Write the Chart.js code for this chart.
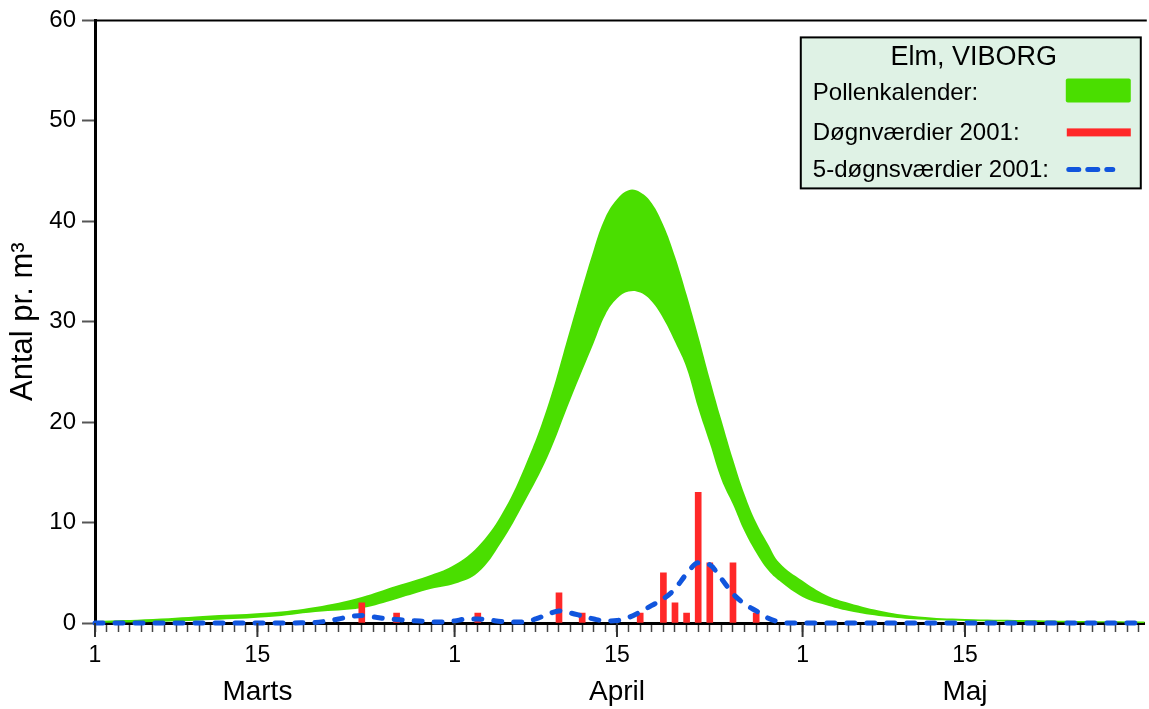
<!DOCTYPE html>
<html>
<head>
<meta charset="utf-8">
<script src="https://cdn.jsdelivr.net/npm/chart.js@4.4.1/dist/chart.umd.min.js"></script>
<style>
  body { margin: 0; background: #fff; }
  #wrap { width: 1149px; height: 709px; }
</style>
</head>
<body>
<div id="wrap"><canvas id="pollenChart" width="1149" height="709"></canvas></div>
<script>
const FONT = "'Liberation Sans', Arial, sans-serif";
const GREEN = '#4ade00';
const RED = '#ff2828';
const BLUE = '#1155dd';

// dage regnet fra 1. marts (= 0)
const bandDays  = [0, 5, 10, 15, 19, 23, 26, 29, 31, 33, 35, 37, 39, 41, 43, 44, 45, 46, 47, 48, 49, 50, 51, 52, 53, 54, 55, 56, 57, 58, 59, 61, 63, 65, 68, 71, 75, 80, 85, 90.5];
const bandUpper = [0.2, 0.4, 0.75, 1.05, 1.6, 2.6, 3.7, 4.8, 5.8, 7.6, 10.7, 15.4, 21.5, 29.4, 37.2, 40.4, 42.2, 43.1, 42.9, 41.8, 39.6, 36.5, 32.7, 28.6, 24.3, 20.2, 16.3, 12.8, 10.0, 7.9, 6.0, 4.2, 2.8, 2.0, 1.15, 0.65, 0.4, 0.3, 0.2, 0.15];
const bandLower = [0, 0.1, 0.3, 0.6, 1.1, 1.5, 2.4, 3.4, 3.9, 5.0, 8.0, 12.0, 16.5, 22.3, 27.9, 30.7, 32.3, 33.0, 32.9, 32.0, 30.3, 28.0, 25.4, 21.4, 17.9, 14.3, 11.8, 9.1, 7.0, 5.3, 4.2, 2.6, 1.8, 1.2, 0.65, 0.35, 0.2, 0.1, 0.05, 0];

const dailyDays   = [23, 26, 33, 40, 42, 47, 49, 50, 51, 52, 53, 55, 57];
const dailyValues = [2, 1, 1, 3, 1, 1, 5, 2, 1, 13, 6, 6, 1];

const fiveDayDays   = [0, 17, 18, 19, 20, 21, 22, 23, 24, 25, 26, 27, 28, 29, 30, 31, 32, 33, 34, 35, 36, 37, 38, 39, 40, 41, 42, 43, 44, 45, 46, 47, 48, 49, 50, 51, 52, 53, 54, 55, 56, 57, 58, 59, 60, 61, 90];
const fiveDayValues = [0, 0, 0.02, 0.05, 0.2, 0.4, 0.65, 0.75, 0.6, 0.45, 0.35, 0.25, 0.2, 0.12, 0.1, 0.2, 0.4, 0.4, 0.3, 0.15, 0.1, 0.1, 0.4, 0.85, 1.2, 1.0, 0.7, 0.4, 0.2, 0.25, 0.55, 1.1, 1.75, 2.4, 3.4, 4.9, 6.0, 5.8, 4.4, 2.9, 1.9, 1.2, 0.5, 0.1, 0, 0, 0];

const dayTickDays   = [0, 14, 31, 45, 61, 75];
const dayTickLabels = ['1', '15', '1', '15', '1', '15'];
const monthDays   = [14, 45, 75];
const monthLabels = ['Marts', 'April', 'Maj'];

const legendTitle  = 'Elm, VIBORG';
const legendLabels = ['Pollenkalender:', 'Døgnværdier 2001:', '5-døgnsværdier 2001:'];

function toPoints(xs, ys) {
    return xs.map((x, i) => ({ x: x, y: ys[i] }));
}

// top-linje og lange streger ved 1. og 15.
const frame = {
    id: 'frame',
    afterDraw(chart) {
        const ctx = chart.ctx, a = chart.chartArea, xs = chart.scales.x;
        ctx.save();
        ctx.strokeStyle = '#000';
        ctx.lineWidth = 2;
        ctx.beginPath();
        ctx.moveTo(a.left, a.top);
        ctx.lineTo(a.right + 2, a.top);
        ctx.stroke();
        ctx.strokeStyle = '#333';
        dayTickDays.forEach(d => {
            const px = xs.getPixelForValue(d);
            ctx.beginPath();
            ctx.moveTo(px, a.bottom);
            ctx.lineTo(px, a.bottom + 14);
            ctx.stroke();
        });
        ctx.restore();
    }
};

const legendBox = {
    id: 'legendBox',
    afterDraw(chart) {
        const ctx = chart.ctx, a = chart.chartArea;
        const bx = a.right - 344, by = a.top + 17, bw = 340, bh = 151;
        ctx.save();
        ctx.fillStyle = '#dff2e5';
        ctx.fillRect(bx, by, bw, bh);
        ctx.strokeStyle = '#000';
        ctx.lineWidth = 2;
        ctx.strokeRect(bx, by, bw, bh);

        ctx.fillStyle = '#000';
        ctx.textBaseline = 'middle';
        ctx.textAlign = 'center';
        ctx.font = '27px ' + FONT;
        ctx.fillText(legendTitle, bx + bw / 2 + 3, by + 20);
        ctx.textAlign = 'left';
        ctx.font = '24px ' + FONT;
        const rows = [by + 56, by + 96, by + 133];
        legendLabels.forEach((t, i) => ctx.fillText(t, bx + 12, rows[i]));

        ctx.fillStyle = GREEN;
        ctx.beginPath();
        ctx.roundRect(bx + 265, by + 41, 65, 24, 2);
        ctx.fill();
        ctx.fillStyle = RED;
        ctx.fillRect(bx + 266, by + 91, 64, 8);
        ctx.strokeStyle = BLUE;
        ctx.lineWidth = 5;
        ctx.lineCap = 'round';
        ctx.setLineDash([10, 9]);
        ctx.beginPath();
        ctx.moveTo(bx + 268, by + 132);
        ctx.lineTo(bx + 312, by + 132);
        ctx.stroke();
        ctx.restore();
    }
};

new Chart(document.getElementById('pollenChart'), {
    type: 'bar',
    data: {
        datasets: [
            {
                type: 'line', label: 'lower', data: toPoints(bandDays, bandLower),
                borderWidth: 0, pointRadius: 0, fill: false, tension: 0.4, order: 3
            },
            {
                type: 'line', label: 'Pollenkalender', data: toPoints(bandDays, bandUpper),
                borderWidth: 0, pointRadius: 0, backgroundColor: GREEN, fill: '-1', tension: 0.4, order: 2
            },
            {
                type: 'bar', label: 'Døgnværdier 2001', data: toPoints(dailyDays, dailyValues),
                backgroundColor: RED, barThickness: 6, borderWidth: 0, order: 1
            },
            {
                type: 'line', label: '5-døgnsværdier 2001', data: toPoints(fiveDayDays, fiveDayValues),
                borderColor: BLUE, borderWidth: 5, borderDash: [8, 12], borderCapStyle: 'round',
                pointRadius: 0, fill: false, cubicInterpolationMode: 'monotone', clip: 8, order: 0
            }
        ]
    },
    options: {
        responsive: false,
        animation: false,
        layout: { padding: { top: 18, right: 2, left: 0, bottom: 0 } },
        plugins: { legend: { display: false }, tooltip: { enabled: false } },
        scales: {
            x: {
                type: 'linear', min: 0, max: 90.5, offset: false, position: 'bottom',
                ticks: {
                    stepSize: 1, autoSkip: false, maxRotation: 0, includeBounds: false, maxTicksLimit: 200,
                    padding: 10, color: '#000', font: { family: FONT, size: 23 },
                    callback: v => {
                        const i = dayTickDays.indexOf(v);
                        return i < 0 ? '' : dayTickLabels[i];
                    }
                },
                grid: { drawOnChartArea: false, drawTicks: true, tickLength: 9, tickColor: '#444', tickWidth: 1.5, offset: false },
                border: { color: '#000', width: 3 },
                afterFit: s => { s.height = 50; }
            },
            m: {
                type: 'linear', min: 0, max: 90.5, offset: false, position: 'bottom',
                afterBuildTicks: axis => { axis.ticks = monthDays.map(v => ({ value: v })); },
                ticks: {
                    autoSkip: false, maxRotation: 0, padding: 2, color: '#000',
                    font: { family: FONT, size: 28 },
                    callback: v => monthLabels[monthDays.indexOf(v)]
                },
                grid: { display: false, drawTicks: false },
                border: { display: false },
                afterFit: s => { s.height = 36; }
            },
            y: {
                min: 0, max: 60,
                ticks: { stepSize: 10, padding: 6, color: '#000', font: { family: FONT, size: 24 } },
                grid: { drawOnChartArea: false, tickLength: 13, tickColor: '#555', tickWidth: 2 },
                border: { color: '#000', width: 3 },
                title: {
                    display: true, text: 'Antal pr. m³', color: '#000',
                    font: { family: FONT, size: 31 }, padding: { top: 5, bottom: 0 }
                },
                afterFit: s => { s.width = 95; }
            }
        }
    },
    plugins: [frame, legendBox]
});
</script>
</body>
</html>
